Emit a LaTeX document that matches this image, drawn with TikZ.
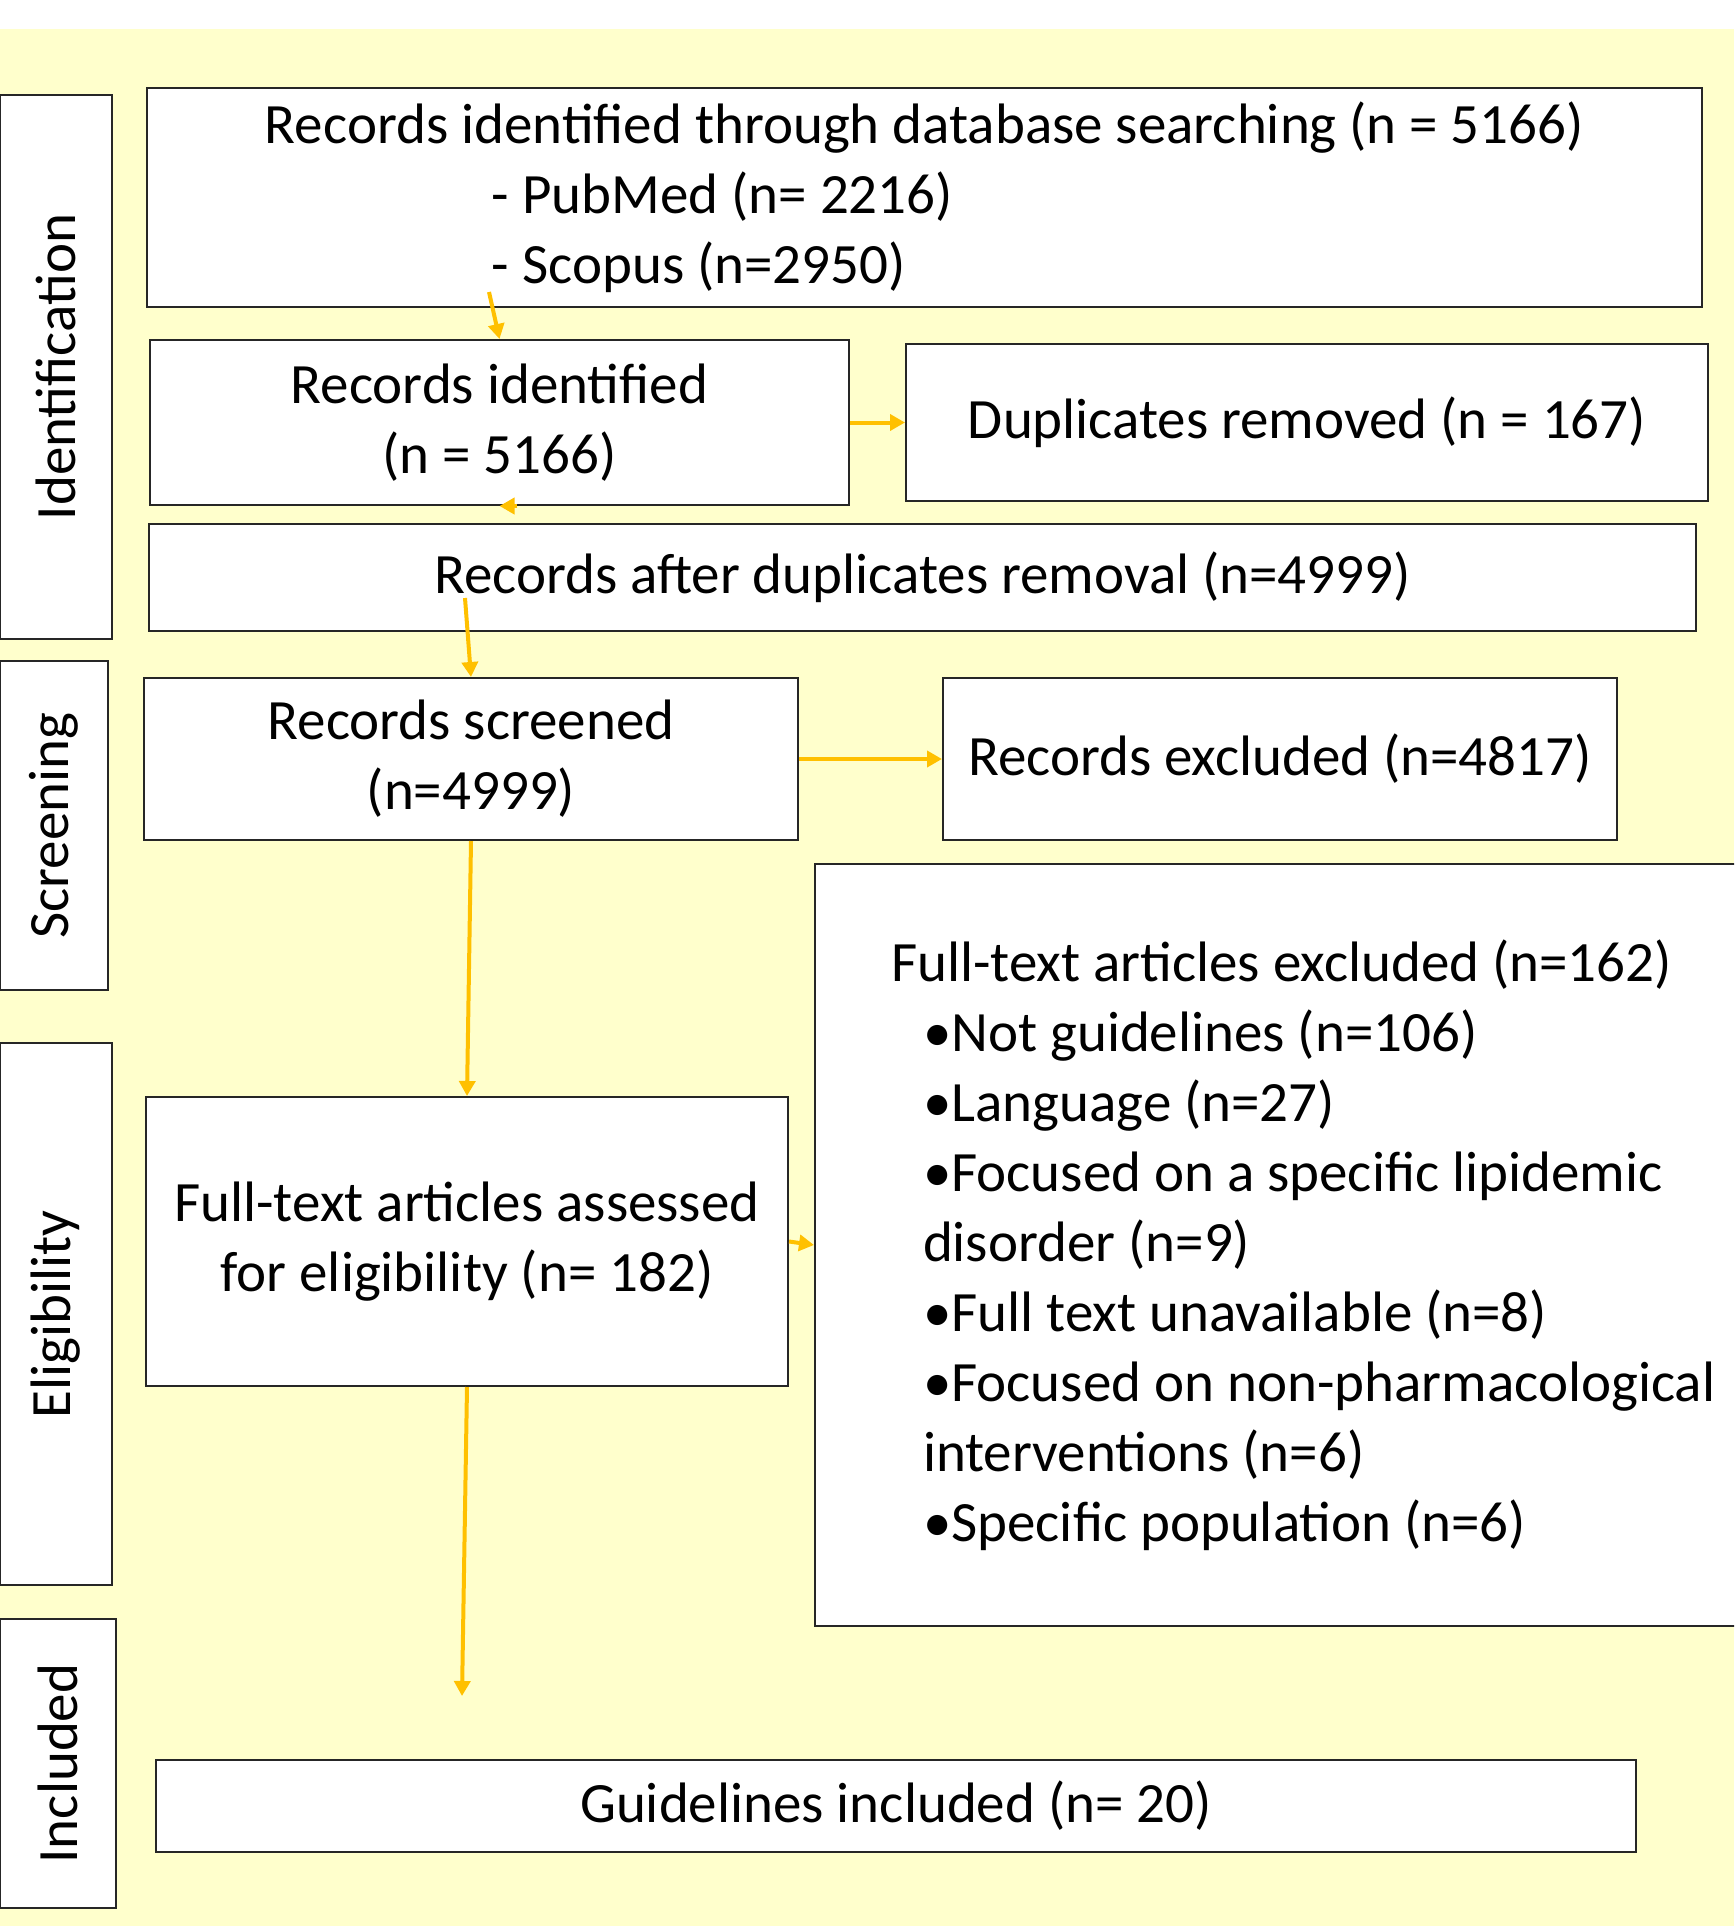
\documentclass[tikz,border=0pt]{standalone}
\usepackage{fontspec}
\setmainfont{Carlito}
\usetikzlibrary{positioning, arrows.meta}
\definecolor{bgyellow}{HTML}{FFFFCC}
\definecolor{arrowgold}{HTML}{FFC000}

\begin{document}
\begin{tikzpicture}[x=1pt, y=-1pt, font=\fontsize{57}{70}\selectfont]

\tikzstyle{stage} = [draw=black!85, line width=2pt, fill=white, rotate=90, inner sep=0pt]
\tikzstyle{box} = [draw=black!85, line width=2pt, fill=white, align=center, inner sep=0pt]
\tikzstyle{arrow} = [draw=arrowgold, line width=4pt, -{Triangle[length=15pt, width=16pt]}]

% Background
\clip (0,0) rectangle (1734,1926);
\fill[white] (0,0) rectangle (1734,1926);
\fill[bgyellow] (0,29) rectangle (1734,1926);

% Stage labels
\node (ident) [stage, minimum width=544pt, minimum height=112pt] at (56,367) {Identification};
\node (screen) [stage, minimum width=329pt, minimum height=108pt] at (54,825.5) {Screening};
\node (elig) [stage, minimum width=542pt, minimum height=112pt] at (56,1314) {Eligibility};
\node (incl) [stage, minimum width=289pt, minimum height=116pt] at (58,1763.5) {Included};

% Make nodes
\node (search) [box, align=left, minimum width=1555pt, minimum height=219pt] at (924.5,197.5)
  {Records identified through database searching (n = 5166)\\
   \hspace*{227pt}- PubMed (n= 2216)\\
   \hspace*{227pt}- Scopus (n=2950)};
\node (recid) [box, minimum width=699pt, minimum height=165pt] at (499.5,422.5)
  {Records identified\\(n = 5166)};
\node (dup) [box, minimum width=802pt, minimum height=157pt, right=55pt of recid]
  {Duplicates removed (n = 167)};
\node (afterdup) [box, minimum width=1547pt, minimum height=107pt] at (922.5,577.5)
  {Records after duplicates removal (n=4999)};
\node (screened) [box, minimum width=654pt, minimum height=162pt] at (471,759)
  {Records screened\\(n=4999)};
\node (excluded) [box, minimum width=674pt, minimum height=162pt, right=143pt of screened]
  {Records excluded (n=4817)};
\node (assessed) [box, minimum width=642pt, minimum height=289pt] at (467,1241.5)
  {Full-text articles assessed\\for eligibility (n= 182)};
\node (ftexcl) [box, align=flush left, text width=900pt, inner xsep=76pt, minimum height=762pt] at (1341,1245)
  {Full-text articles excluded (n=162)\\
   \hspace*{32pt}•Not guidelines (n=106)\\
   \hspace*{32pt}•Language (n=27)\\
   \hspace*{32pt}•Focused on a specific lipidemic\\
   \hspace*{32pt}disorder (n=9)\\
   \hspace*{32pt}•Full text unavailable (n=8)\\
   \hspace*{32pt}•Focused on non-pharmacological\\
   \hspace*{32pt}interventions (n=6)\\
   \hspace*{32pt}•Specific population (n=6)};
\node (guide) [box, minimum width=1480pt, minimum height=92pt] at (896,1806)
  {Guidelines included (n= 20)};

% Loose arrow ends
\coordinate (s1) at (489,292);
\coordinate (s2) at (517,506);
\coordinate (s3) at (465,598);
\coordinate (e1) at (462,1696);

% Connect nodes
\draw[arrow] (s1) -- (recid.north);
\draw[arrow] (s2) -- (recid.south);
\draw[arrow] (recid.east) -- (dup.west);
\draw[arrow] (s3) -- (screened.north);
\draw[arrow] (screened.east) -- (excluded.west);
\draw[arrow] (screened.south) -- (assessed.north);
\draw[arrow] (assessed.east) -- (ftexcl.west);
\draw[arrow] (assessed.south) -- (e1);

\end{tikzpicture}
\end{document}
